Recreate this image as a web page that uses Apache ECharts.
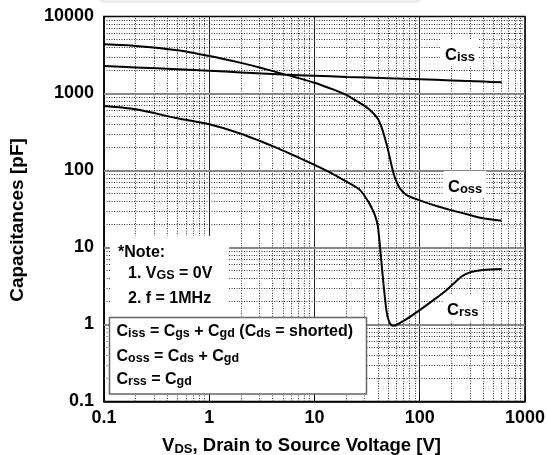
<!DOCTYPE html>
<html>
<head>
<meta charset="utf-8">
<script src="https://cdn.jsdelivr.net/npm/echarts@6/dist/echarts.min.js"></script>
<style>html,body{margin:0;padding:0;background:#fff}#c{width:548px;height:455px}</style>
</head>
<body>
<div id="c"></div>
<script>
// ---- data ----
const cissV = [0.1, 0.2, 0.5, 1, 2, 5, 10, 20, 50, 100, 200, 400, 600];
const cissC = [2275, 2180, 2070, 1977, 1880, 1760, 1700, 1640, 1580, 1530, 1480, 1430, 1396];

const cossV = [0.1, 0.2, 0.5, 1, 2, 3, 5, 7, 10, 15, 20, 25, 30, 35, 40, 44, 47, 50, 53, 56, 60, 65, 75, 100, 150, 200, 300, 400, 600];
const cossC = [4350, 4150, 3650, 3070, 2500, 2180, 1800, 1590, 1380, 1130, 960, 800, 690, 580, 470, 345, 255, 185, 130, 95, 72, 58, 48, 41, 34, 30.5, 26.4, 24, 22.3];

const crssV = [0.1, 0.2, 0.5, 1, 2, 4.5, 7, 10, 15, 20, 27, 33, 36, 38, 40, 42, 44, 46, 48, 50, 53, 57, 65, 80, 100, 130, 165, 200, 250, 300, 400, 600];
const crssC = [689, 625, 476, 398, 300, 194, 148, 118, 90, 72, 56, 38, 30, 25, 19, 10, 5, 2.7, 1.6, 1.2, 1.0, 0.96, 1.05, 1.25, 1.54, 2.0, 2.55, 3.2, 4.2, 4.75, 5.1, 5.26];

const xTickLabels = [0.1, 1, 10, 100, 1000];
const yTickLabels = [0.1, 1, 10, 100, 1000, 10000];
const xMinor = [0.2,0.3,0.4,0.5,0.6,0.7,0.8,0.9, 2,3,4,5,6,7,8,9, 20,30,40,50,60,70,80,90, 200,300,400,500,600,700,800,900];
const yMinor = [0.2,0.3,0.4,0.5,0.6,0.7,0.8,0.9, 2,3,4,5,6,7,8,9, 20,30,40,50,60,70,80,90, 200,300,400,500,600,700,800,900, 2000,3000,4000,5000,6000,7000,8000,9000];
const yMajorInner = [1, 10, 100, 1000];

function pairs(v, c) { return v.map((x, i) => [x, c[i]]); }

const FF = '"Liberation Sans", Arial, Helvetica, sans-serif';
const chart = echarts.init(document.getElementById('c'));

function rich(mSize, sSize) {
  return {
    m: { fontSize: mSize, fontWeight: 'bold', fontFamily: FF, fill: '#000', color: '#000', lineHeight: Math.round(mSize * 1.4), verticalAlign: 'bottom' },
    s: { fontSize: sSize, fontWeight: 'bold', fontFamily: FF, fill: '#000', color: '#000', lineHeight: sSize, verticalAlign: 'bottom' }
  };
}
function txt(x, y, text, mSize, sSize, extra) {
  return {
    type: 'text', x: x, y: y, z: 20,
    style: Object.assign({
      text: text, rich: rich(mSize, sSize),
      textAlign: 'left', textVerticalAlign: 'middle',
      font: 'bold ' + mSize + 'px ' + FF, fill: '#000'
    }, extra || {})
  };
}

const option = {
  animation: false,
  backgroundColor: '#fff',
  grid: { left: 104, right: 21.5, top: 16.5, bottom: 53.5, show: true, borderColor: '#000', borderWidth: 1.5, backgroundColor: 'transparent' },
  xAxis: {
    type: 'log', logBase: 10, min: 0.1, max: 1000, splitNumber: 4,
    axisLine: { show: true, onZero: false, lineStyle: { color: '#000', width: 1.5 } },
    axisTick: { show: true, inside: true, length: 6, lineStyle: { color: '#000' } },
    minorTick: { show: false },
    axisLabel: { fontSize: 18, fontWeight: 'bold', fontFamily: FF, color: '#000', margin: 8,
      formatter: v => xTickLabels.some(t => Math.abs(t - v) < 1e-9 * Math.max(1, v)) ? String(v) : '' },
    splitLine: { show: true, lineStyle: { color: '#222', width: 1 } }
  },
  yAxis: {
    type: 'log', logBase: 10, min: 0.1, max: 10000, splitNumber: 5,
    axisLine: { show: true, onZero: false, lineStyle: { color: '#000', width: 1.5 } },
    axisTick: { show: true, inside: true, length: 6, lineStyle: { color: '#000' } },
    axisLabel: { fontSize: 18, fontWeight: 'bold', fontFamily: FF, color: '#000', margin: 10,
      formatter: v => yTickLabels.some(t => Math.abs(t - v) < 1e-9 * Math.max(1, v)) ? String(v) : '' },
    splitLine: { show: false }
  },
  series: [
    {
      type: 'line', data: [], silent: true, z: 1,
      markLine: {
        silent: true, symbol: ['none', 'none'], label: { show: false }, animation: false,
        lineStyle: { color: '#333', width: 1, type: [1, 1.5] },
        emphasis: { disabled: true },
        data: xMinor.map(v => ({ xAxis: v })).concat(yMinor.map(v => ({ yAxis: v })))
      }
    },
    {
      type: 'line', data: [], silent: true, z: 1,
      markLine: {
        silent: true, symbol: ['none', 'none'], label: { show: false }, animation: false,
        lineStyle: { color: '#888', width: 2, type: 'solid' },
        emphasis: { disabled: true },
        data: yMajorInner.map(v => ({ yAxis: v }))
      }
    },
    { name: 'Ciss', type: 'line', data: pairs(cissV, cissC), showSymbol: false, smooth: 0.25, z: 5,
      lineStyle: { color: '#000', width: 2 }, itemStyle: { color: '#000' } },
    { name: 'Coss', type: 'line', data: pairs(cossV, cossC), showSymbol: false, smooth: 0.25, z: 5,
      lineStyle: { color: '#000', width: 2 }, itemStyle: { color: '#000' } },
    { name: 'Crss', type: 'line', data: pairs(crssV, crssC), showSymbol: false, smooth: 0.25, z: 5,
      lineStyle: { color: '#000', width: 2 }, itemStyle: { color: '#000' } }
  ],
  graphic: [
    { type: 'rect', z: 10, shape: { x: 100, y: 0, width: 320, height: 3 }, style: { fill: '#eeeeee' } },
    // note white background
    { type: 'rect', z: 10, shape: { x: 110, y: 236, width: 119, height: 82 }, style: { fill: '#fff' } },
    // formula box
    { type: 'rect', z: 10, shape: { x: 109.5, y: 317.5, width: 257, height: 76.5 }, style: { fill: '#fff', stroke: '#666', lineWidth: 1.5 } },
    txt(118, 250, '{m|*Note:}', 16, 12.5),
    txt(128, 271, '{m|1. V}{s|GS}{m| = 0V}', 16, 12.5),
    txt(128, 296, '{m|2. f = 1MHz}', 16, 12.5),
    txt(116.5, 329, '{m|C}{s|iss}{m| = C}{s|gs}{m| + C}{s|gd}{m| (C}{s|ds}{m| = shorted)}', 16, 12.5),
    txt(116.5, 354, '{m|C}{s|oss}{m| = C}{s|ds}{m| + C}{s|gd}', 16, 12.5),
    txt(116.5, 377, '{m|C}{s|rss}{m| = C}{s|gd}', 16, 12.5),
    // curve labels
    txt(441, 52.5, '{m|C}{s|iss}', 16.5, 13, { backgroundColor: '#fff', padding: [2, 4, 2, 4] }),
    txt(444, 184.5, '{m|C}{s|oss}', 16.5, 13, { backgroundColor: '#fff', padding: [2, 4, 2, 4] }),
    txt(443, 307.5, '{m|C}{s|rss}', 16.5, 13, { backgroundColor: '#fff', padding: [2, 4, 2, 4] }),
    // axis titles
    txt(301.5, 442.5, '{m|V}{s|DS}{m|, Drain to Source Voltage [V]}', 18.5, 13, { textAlign: 'center' }),
    { type: 'text', z: 20, x: 17.5, y: 220, rotation: Math.PI / 2,
      style: { text: 'Capacitances [pF]', font: 'bold 19px ' + FF, fill: '#000', textAlign: 'center', textVerticalAlign: 'middle' } }
  ]
};
chart.setOption(option);
</script>
</body>
</html>
